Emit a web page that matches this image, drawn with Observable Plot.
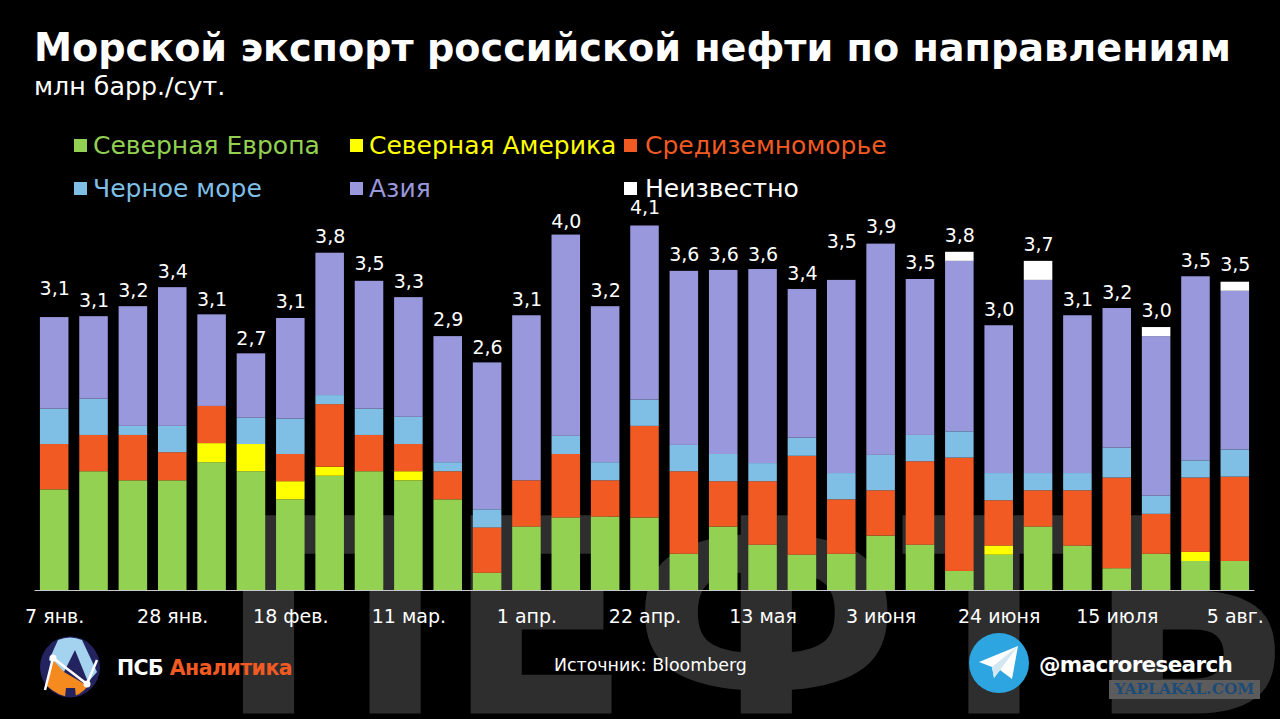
<!DOCTYPE html>
<html lang="ru">
<head>
<meta charset="utf-8">
<script src="https://cdn.jsdelivr.net/npm/d3@7"></script>
<script src="https://cdn.jsdelivr.net/npm/@observablehq/plot@0.6"></script>
<style>
  html, body { margin: 0; padding: 0; background: #000; width: 1280px; height: 719px; overflow: hidden; font-family: "DejaVu Sans", sans-serif; color: #fff; }
  #chart { position: absolute; left: 0; top: 0; }
  .t { position: absolute; white-space: nowrap; line-height: 1; }
  #title { left: 34px; top: 29px; font-size: 38.2px; font-weight: 700; }
  #subtitle { left: 34px; top: 74px; font-size: 25.3px; }
  .sw { position: absolute; width: 13px; height: 13px; }
  .lg { font-size: 25px; }
  #stamp { position: absolute; left: 1109px; top: 680px; width: 151px; height: 19px; background: #5c5c5c; color: #1d4b78; font: 700 15.4px/19px "DejaVu Serif", serif; text-align: center; }
</style>
</head>
<body>
<div id="chart"></div>
<div class="t" id="title">Морской экспорт российской нефти по направлениям</div>
<div class="t" id="subtitle">млн барр./сут.</div>
<div id="legend"></div>
<svg style="position:absolute;left:38px;top:636px" width="64" height="62" viewBox="0 0 64 62">
  <ellipse cx="32" cy="31" rx="30" ry="30.5" fill="#23235f"/>
  <path d="M20 4 Q32 -1 44 4 L59 36 L50 46 L37 14 L26 36 L11 24 Z" fill="#a4d3ef"/>
  <path d="M15 24 L26 36 L50 50 Q42 60 32 61 Q20 60 9 50 Z" fill="#f58a1f"/>
  <path d="M27 61 L28 52 L37 52 L38 61 Z" fill="#23235f"/>
  <path d="M7 54 L15 22 L49 48 L59 24" fill="none" stroke="#fff" stroke-width="2.5"/>
  <circle cx="15" cy="22" r="3.5" fill="#fff"/><circle cx="49" cy="48" r="3.5" fill="#fff"/>
</svg>
<div class="t" style="left:117px;top:658px;font:700 20.5px/1 'DejaVu Sans',sans-serif;letter-spacing:-.55px">ПСБ <span style="color:#f15a22">Аналитика</span></div>
<div class="t" style="left:554px;top:657px;font-size:17.4px">Источник: Bloomberg</div>
<svg style="position:absolute;left:968px;top:632px" width="62" height="62" viewBox="0 0 62 62">
  <circle cx="31" cy="31" r="30" fill="#2ca5e0"/>
  <path d="M11 30 L50 14 L44 47 L32 38 L26 46 L24 35 Z" fill="#fff"/>
  <path d="M24 35 L50 14 L32 38 L26 46 Z" fill="#d3e7f3"/>
</svg>
<div class="t" style="left:1039px;top:654px;font-size:21.5px;font-weight:700;letter-spacing:-.65px">@macroresearch</div>
<div id="stamp">YAPLAKAL.COM</div>
<script>
const weeks = ["7 янв.","14 янв.","21 янв.","28 янв.","4 фев.","11 фев.","18 фев.","25 фев.","4 мар.","11 мар.","18 мар.","25 мар.","1 апр.","8 апр.","15 апр.","22 апр.","29 апр.","6 мая","13 мая","20 мая","27 мая","3 июня","10 июня","17 июня","24 июня","1 июля","8 июля","15 июля","22 июля","29 июля","5 авг."];
const tickLabels = ["7 янв.","28 янв.","18 фев.","11 мар.","1 апр.","22 апр.","13 мая","3 июня","24 июня","15 июля","5 авг."];
const seriesNames = ["Северная Европа","Северная Америка","Средиземноморье","Черное море","Азия","Неизвестно"];
const seriesColors = ["#93d152","#ffff00","#f15a22","#7fbfe6","#9a98dc","#ffffff"];
const northEurope = [1.11,1.31,1.21,1.21,1.41,1.31,1.00,1.26,1.31,1.21,1.00,0.19,0.70,0.80,0.81,0.80,0.40,0.70,0.50,0.39,0.40,0.60,0.50,0.21,0.39,0.70,0.49,0.24,0.40,0.32,0.32];
const northAmerica = [0,0,0,0,0.21,0.30,0.20,0.10,0,0.10,0,0,0,0,0,0,0,0,0,0,0,0,0,0,0.10,0,0,0,0,0.10,0];
const mediterranean = [0.50,0.40,0.50,0.31,0.41,0,0.30,0.69,0.40,0.30,0.31,0.50,0.51,0.70,0.40,1.01,0.91,0.50,0.70,1.09,0.60,0.50,0.92,1.25,0.50,0.40,0.61,1.00,0.44,0.82,0.93];
const blackSea = [0.39,0.40,0.10,0.29,0,0.29,0.39,0.10,0.29,0.30,0.10,0.20,0,0.20,0.20,0.29,0.29,0.30,0.20,0.20,0.29,0.39,0.29,0.29,0.30,0.19,0.19,0.33,0.20,0.19,0.30];
const asia = [1.01,0.91,1.32,1.53,1.01,0.71,1.11,1.57,1.41,1.32,1.39,1.62,1.82,2.22,1.72,1.92,1.92,2.03,2.14,1.64,2.13,2.33,1.72,1.88,1.63,2.13,1.74,1.54,1.76,2.03,1.75];
const unknown = [0,0,0,0,0,0,0,0,0,0,0,0,0,0,0,0,0,0,0,0,0,0,0,0.10,0,0.21,0,0,0.10,0,0.10];
const totals = [3.1,3.1,3.2,3.4,3.1,2.7,3.1,3.8,3.5,3.3,2.9,2.6,3.1,4.0,3.2,4.1,3.6,3.6,3.6,3.4,3.5,3.9,3.5,3.8,3.0,3.7,3.1,3.2,3.0,3.5,3.5];
const totalLabelHeights = [3.33,3.19,3.30,3.51,3.21,2.78,3.18,3.90,3.60,3.40,2.98,2.68,3.21,4.06,3.30,4.22,3.70,3.70,3.70,3.49,3.85,4.01,3.61,3.91,3.10,3.81,3.21,3.28,3.08,3.64,3.59];
const seriesValues = [northEurope,northAmerica,mediterranean,blackSea,asia,unknown];
const watermark = "ПЕФТЬ";

const rows = seriesNames.flatMap((name, s) => weeks.map((week, i) => ({week, name, value: seriesValues[s][i]})));
const labels = weeks.map((week, i) => ({week, total: totals[i], at: totalLabelHeights[i]}));
const fmt = v => v.toFixed(1).replace(".", ",");

const chart = Plot.plot({
  width: 1280, height: 719,
  marginLeft: 34.5, marginRight: 25.5, marginTop: 0, marginBottom: 129,
  style: {background: "transparent", overflow: "visible", fontFamily: "'DejaVu Sans', sans-serif"},
  x: {type: "band", domain: weeks, paddingInner: 0.275, paddingOuter: 0.1375, round: false, label: null},
  y: {domain: [0, 6.507], axis: null},
  color: {domain: seriesNames, range: seriesColors},
  marks: [
    Plot.text([watermark], {
      frameAnchor: "bottom-left", textAnchor: "start", lineAnchor: "bottom",
      dx: 183, dy: 123, fontSize: 272, fontWeight: 700, fill: "#2e2e2e"
    }),
    Plot.barY(rows, Plot.stackY({x: "week", y: "value", fill: "name", order: seriesNames})),
    Plot.ruleY([0], {stroke: "#c8c8c8", strokeWidth: 1}),
    Plot.text(labels, {x: "week", y: "at", text: d => fmt(d.total), fill: "#fff", fontSize: 19, lineAnchor: "middle"}),
    Plot.axisX({
      ticks: tickLabels, tickSize: 0, tickPadding: 19, label: null,
      fontSize: 19, color: "#fff", fill: "#fff"
    })
  ]
});
document.getElementById("chart").append(chart);

const legendSlots = [[74,93,139,133],[350,369,139,133],[624,645,139,133],[74,93,182,176],[350,369,182,176],[624,645,182,176]];
const legend = document.getElementById("legend");
seriesNames.forEach((name, i) => {
  const [sx, tx, sy, ty] = legendSlots[i];
  const sw = document.createElement("div");
  sw.className = "sw"; sw.style.cssText = `left:${sx}px;top:${sy}px;background:${seriesColors[i]}`;
  const t = document.createElement("div");
  t.className = "t lg"; t.textContent = name; t.style.cssText = `left:${tx}px;top:${ty}px;color:${seriesColors[i]}`;
  legend.append(sw, t);
});
</script>
</body>
</html>
